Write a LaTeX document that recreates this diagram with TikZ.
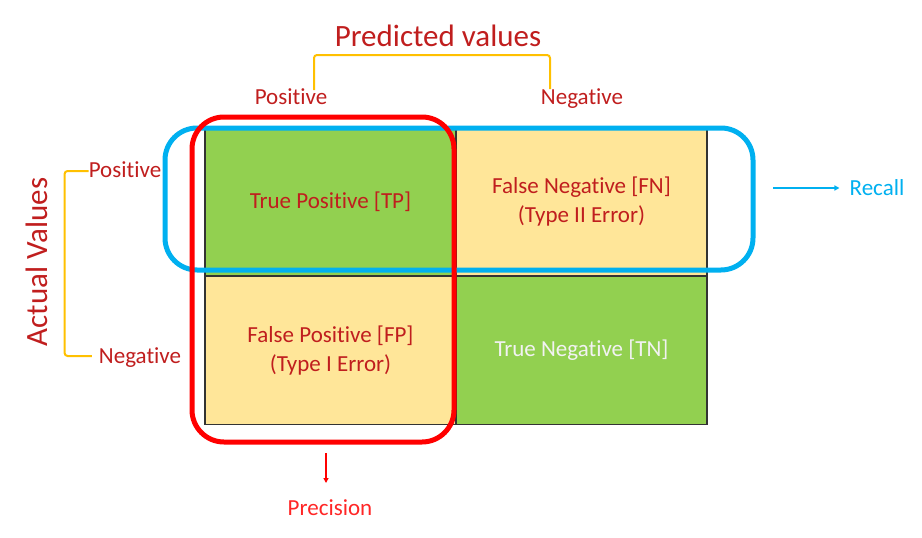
\documentclass[tikz,border=0pt]{standalone}
\usepackage{fontspec}
\setmainfont[Ligatures=NoCommon]{Carlito}
\usetikzlibrary{arrows.meta}

\definecolor{cellgreen}{RGB}{146,208,80}
\definecolor{cellyellow}{RGB}{255,230,153}
\definecolor{txtred}{RGB}{192,30,30}
\definecolor{boxred}{RGB}{255,0,0}
\definecolor{boxblue}{RGB}{0,176,240}
\definecolor{brkorange}{RGB}{255,192,0}

\begin{document}
\begin{tikzpicture}[x=1pt,y=-1pt,
  cell/.style={draw=black!80,line width=1.2pt,minimum width=251pt,minimum height=148pt,
    inner sep=0pt,align=center,font=\fontsize{23}{29}\selectfont,text=txtred},
  lbl/.style={font=\fontsize{23}{26}\selectfont,text=txtred,inner sep=0pt,
    text height=0.66em,text depth=0pt},
  title/.style={font=\fontsize{31}{34}\selectfont,text=txtred,inner sep=0pt,
    text height=0.66em,text depth=0pt},
  bracket/.style={brkorange,line width=2pt,rounded corners=3pt},
  hoop/.style={line width=5pt,rounded corners=32pt}]
  \useasboundingbox (0,0) rectangle (922,538);

  % the four cells
  \node[cell,fill=cellgreen] (tp) at (330.5,202) {True Positive [TP]};
  \node[cell,fill=cellyellow] (fn) at (581.5,202) {False Negative [FN]\\(Type II Error)};
  \node[cell,fill=cellyellow] (fp) at (330.5,350.5) {False Positive [FP]\\(Type I Error)};
  \node[cell,fill=cellgreen,text=white!95!black] (tn) at (581.5,350.5) {True Negative [TN]};

  % headings
  \node[title] (pred) at (438,43) {Predicted values};
  \node[lbl] (ppos) at (291,101) {Positive};
  \node[lbl] (pneg) at (582,101) {Negative};
  \node[title,rotate=90] (act) at (44,262) {Actual Values};
  \node[lbl] (apos) at (125,174) {Positive};
  \node[lbl] (aneg) at (140,360) {Negative};

  \coordinate (pl) at (314,90);
  \coordinate (pr) at (550,89);
  \draw[bracket] (pl) -- ++(0,-35) -| (pr);
  \draw[bracket] ([yshift=3pt]apos.west) -- ++(-24,0) |- ([xshift=-7pt,yshift=4pt]aneg.west);

  % recall and precision
  \draw[hoop,boxblue] (165,128) rectangle (753,270);
  \draw[hoop,boxred] (192,117) rectangle (454,442);

  \node[lbl,text=boxblue] (recall) at (877,192) {Recall};
  \coordinate (rc) at (773,188);
  \draw[boxblue,line width=1.6pt,-{Triangle[length=5pt,width=5pt]}] (rc) -- ([xshift=-10pt]rc -| recall.west);

  \node[lbl,text=red!85!white] (prec) at (330,512) {Precision};
  \coordinate (pc) at (326,453);
  \coordinate (pe) at (326,483);
  \draw[red,line width=1.2pt,-{Triangle[length=5pt,width=5pt]}] (pc) -- (pe);
\end{tikzpicture}
\end{document}
